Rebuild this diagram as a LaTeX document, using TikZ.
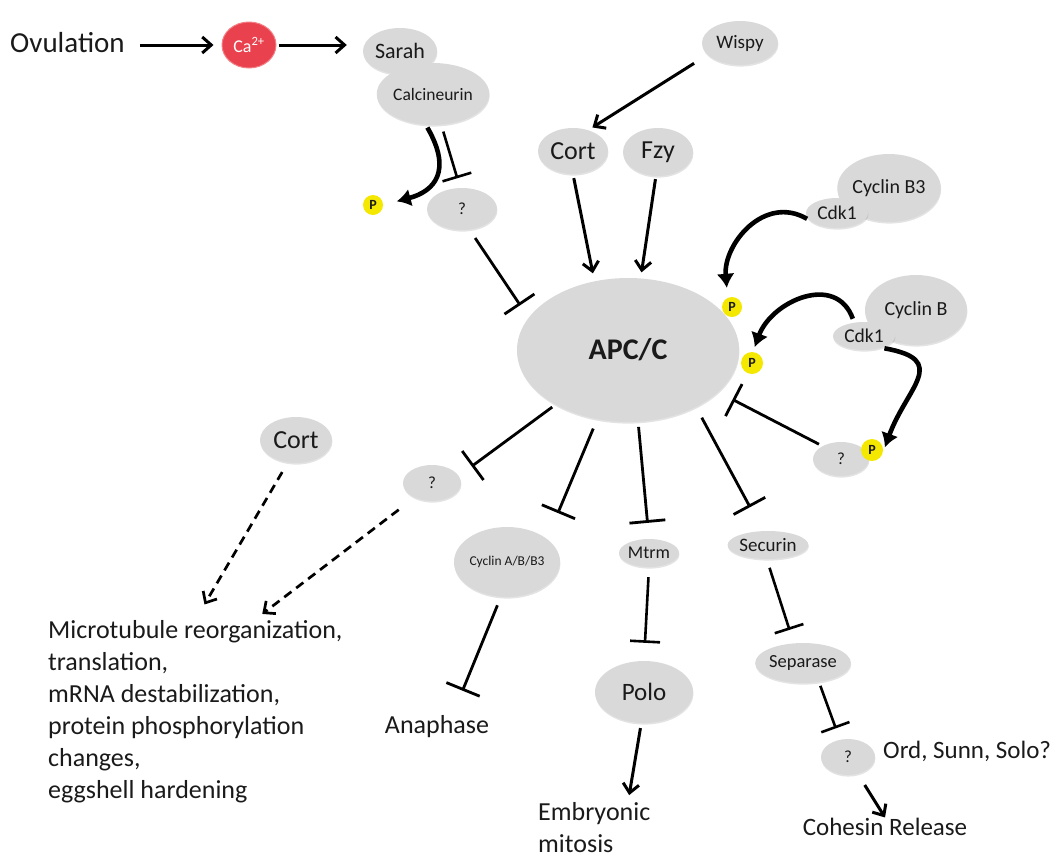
\documentclass[tikz,border=0pt]{standalone}
\usepackage{fontspec}
\setmainfont{Carlito}
\usetikzlibrary{arrows.meta,shapes.geometric,shadows,calc}
\definecolor{protgray}{HTML}{D9D9D9}
\definecolor{inkgray}{HTML}{1A1A1A}
\definecolor{cared}{HTML}{E9424E}
\definecolor{caedge}{HTML}{F27E86}
\definecolor{pyellow}{HTML}{F4E800}
\newcommand{\fsz}[2]{\fontsize{#1}{#2}\selectfont}

\begin{document}
\begin{tikzpicture}[
  x=1pt, y=1pt,
  prot/.style={ellipse, fill=protgray, inner sep=0pt, text=inkgray,
    drop shadow={shadow xshift=0.4pt, shadow yshift=-1.6pt, opacity=0.22}},
  phos/.style={circle, fill=pyellow, inner sep=0pt, minimum size=20pt, text=inkgray,
    font=\fsz{14}{14}\bfseries},
  lbl/.style={text=inkgray, inner sep=0pt},
  act/.style={-{Straight Barb[length=9pt,width=16pt]}, line width=3pt},
  dashact/.style={act, line width=2.7pt, dash pattern=on 9pt off 6pt},
  inh/.style={-{Bar[width=36pt]}, line width=2.8pt},
  inhs/.style={-{Bar[width=30pt]}, line width=2.6pt},
  fat/.style={-{Latex[length=14pt,width=18pt]}, line width=4.6pt}
]
\useasboundingbox (0,0) rectangle (1059,-857);

\node[lbl, anchor=base west, font=\fsz{29}{35}] (ovul) at (10,-52) {Ovulation};
\node[ellipse, fill=cared, draw=caedge, line width=1pt, minimum width=54pt, minimum height=46pt,
  inner sep=0pt, text=white, font=\fsz{18}{18}] (ca) at (249,-45) {Ca\textsuperscript{2+}};
\node[prot, minimum width=74pt, minimum height=46pt, font=\fsz{22}{22}] (sarah) at (400,-51) {Sarah};
\node[prot, minimum width=90pt, minimum height=62pt, font=\fsz{17.5}{18}] (calc) at (433,-94) {Calcineurin};
\node[phos] (pcal) at (373,-205) {P};
\node[prot, minimum width=70pt, minimum height=42pt, font=\fsz{17}{17}] (qcal) at (462,-209) {?};

\node[prot, minimum width=76pt, minimum height=44pt, font=\fsz{19}{19}] (wispy) at (740,-43) {Wispy};
\node[prot, minimum width=70pt, minimum height=46pt, font=\fsz{26}{26}] (cort) at (573,-151) {Cort};
\node[prot, minimum width=70pt, minimum height=48pt, font=\fsz{26}{26}] (fzy) at (658,-152) {Fzy};

\node[prot, minimum width=102pt, minimum height=68pt, font=\fsz{20}{20}] (cycbthree) at (889,-188) {Cyclin B3};
\node[prot, minimum width=62pt, minimum height=30pt, font=\fsz{19.5}{20}] (cdkbthree) at (837,-213) {Cdk1};

\node[prot, minimum width=222pt, minimum height=144pt, font=\fsz{30}{30}\bfseries] (apc) at (628,-350) {APC/C};
\node[phos] (pa1) at (732,-307) {P};
\node[phos, minimum size=22pt] (pa2) at (752,-363) {P};

\node[prot, minimum width=102pt, minimum height=70pt, font=\fsz{20}{20}] (cycb) at (916,-310) {Cyclin B};
\node[prot, minimum width=62pt, minimum height=28pt, font=\fsz{19.5}{20}] (cdkb) at (864,-336) {Cdk1};
\node[prot, minimum width=56pt, minimum height=34pt, font=\fsz{17}{17}] (qr) at (841,-459) {?};
\node[phos, minimum size=22pt] (pqr) at (872,-450) {P};

\node[prot, minimum width=72pt, minimum height=46pt, font=\fsz{26}{26}] (cortb) at (296,-440) {Cort};
\node[prot, minimum width=58pt, minimum height=36pt, font=\fsz{17}{17}] (ql) at (432,-483) {?};
\node[prot, minimum width=84pt, minimum height=70pt, font=\fsz{13.5}{14}] (cycabb) at (507,-562) {Cyclin A/B/B3};
\node[prot, minimum width=60pt, minimum height=28pt, font=\fsz{18}{18}] (mtrm) at (649,-553) {Mtrm};
\node[prot, minimum width=98pt, minimum height=62pt, font=\fsz{25}{25}] (polo) at (644,-692) {Polo};
\node[prot, minimum width=64pt, minimum height=28pt, font=\fsz{19}{19}] (securin) at (768,-545) {Securin};
\node[prot, minimum width=70pt, minimum height=40pt, font=\fsz{18.5}{19}] (separase) at (803,-663) {Separase};
\node[prot, minimum width=54pt, minimum height=36pt, font=\fsz{17}{17}] (qb) at (848,-757) {?};

\node[lbl, anchor=north west, align=left, font=\fsz{26}{32}] (micro) at (48,-620)
  {Microtubule reorganization,\\translation,\\mRNA destabilization,\\protein phosphorylation\\changes,\\eggshell hardening};
\node[lbl, anchor=base, font=\fsz{26}{32}] (anaph) at (437,-733) {Anaphase};
\node[lbl, anchor=north west, align=left, font=\fsz{26}{32}] (embryo) at (538,-802) {Embryonic\\mitosis};
\node[lbl, anchor=base, font=\fsz{25}{30}] (cohes) at (885,-835) {Cohesin Release};
\node[lbl, anchor=base west, font=\fsz{25}{30}] (ord) at (883,-758) {Ord, Sunn, Solo?};

\draw[act, shorten <=15pt, shorten >=8pt] (ca.west -| ovul.east) -- (ca.west);
\draw[act, shorten <=2pt, shorten >=16pt] (ca.east) -- (ca.east -| sarah.west);
\draw[fat, shorten <=3pt, shorten >=14pt] (calc.-103) to[out=-60, in=15, looseness=1.5] (pcal.east);
\draw[inhs, shorten <=7pt, shorten >=10pt] (calc.-75) -- (qcal.95);
\draw[inh, shorten <=10pt, shorten >=15pt] (qcal.-70) -- (apc.162);

\draw[act, shorten <=16pt, shorten >=5pt] (wispy.200) -- (cort.54);
\draw[act, shorten <=4pt, shorten >=8pt] (cort.-90) -- (apc.116);
\draw[act, shorten <=3pt, shorten >=6pt] (fzy.-95) -- (apc.80);

\draw[fat, shorten <=3pt, shorten >=10pt] (cdkbthree.195) to[out=150, in=95, looseness=1.2] (pa1.115);
\draw[fat, shorten <=4pt, shorten >=5pt] (cdkb.126) to[out=110, in=70, looseness=1.3] (pa2.85);
\draw[fat, shorten <=3pt, shorten >=6pt] (cdkb.-34) to[out=-10, in=70, looseness=1.7] (pqr.-15);
\draw[inh, shorten <=4pt, shorten >=16pt] (qr.145) -- (apc.-25);

\draw[inh, shorten <=4pt, shorten >=16pt] (apc.-143) -- (ql.15);
\draw[inh, shorten <=10pt, shorten >=28pt] (apc.-114) -- (cycabb.30);
\draw[inh, shorten <=5pt, shorten >=16pt] (apc.-82) -- (mtrm.north);
\draw[inh, shorten <=12pt, shorten >=27pt] (apc.-40) -- (securin.110);
\draw[inhs, shorten <=10pt, shorten >=18pt] (mtrm.south) -- (polo.north);
\draw[act, shorten <=5pt, shorten >=7pt] (polo.-95) -- ($(embryo.north west)!0.8!(embryo.north east)$);
\draw[inhs, shorten <=9pt, shorten >=14pt] (securin.-95) -- (separase.115);
\draw[inhs, shorten <=4pt, shorten >=12pt] (separase.-50) -- (qb.115);
\draw[act, shorten <=13pt] (qb.-60) -- (cohes.north);

\draw[dashact, shorten <=11pt, shorten >=18pt] (cortb.-110) -- (micro.north);
\draw[dashact, shorten <=20pt, shorten >=10pt] (ql.-140) -- ($(micro.north west)!0.7!(micro.north east)$);
\draw[inh, shorten <=9pt, shorten >=26pt] (cycabb.-100) -- ($(anaph.north)!0.3!(anaph.north east)$);

\end{tikzpicture}
\end{document}
